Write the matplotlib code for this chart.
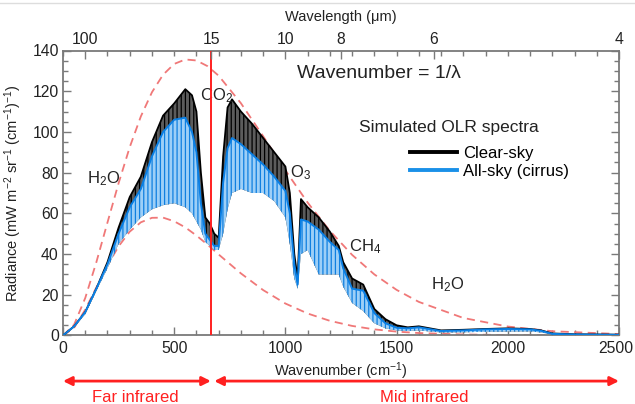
import matplotlib
matplotlib.use("Agg")
import matplotlib.pyplot as plt
from matplotlib.ticker import MultipleLocator
from matplotlib.lines import Line2D

plt.rcParams["font.family"] = ["Liberation Sans", "DejaVu Sans"]
plt.rcParams["mathtext.fontset"] = "custom"
plt.rcParams["mathtext.rm"] = "Liberation Sans"
plt.rcParams["mathtext.it"] = "Liberation Sans:italic"
plt.rcParams["hatch.linewidth"] = 0.9

# 讀圖所得數據（波數 cm-1）
wn = [0, 50, 100, 150, 200, 250, 300, 350, 400, 450, 500, 550, 580, 600, 620,
      640, 660, 680, 700, 720, 740, 760, 800, 850, 900, 950, 1000, 1020, 1040,
      1055, 1070, 1100, 1150, 1200, 1240, 1260, 1300, 1350, 1400, 1450, 1500,
      1550, 1600, 1700, 1800, 1900, 2000, 2100, 2150, 2200, 2300, 2400, 2500]
clear_top = [0, 4.5, 11.5, 23, 36, 53, 68, 78, 95, 108, 114, 121, 118, 110, 80,
             58, 55, 50, 48, 88, 112, 116, 110, 104, 97, 90, 83, 70, 40,
             28, 67, 63, 58, 51, 44, 36, 28, 25, 13, 8, 5,
             4, 4.5, 2.5, 2.8, 3.2, 3.5, 3.2, 2.5, 1.0, 0.6, 0.5, 0.4]
cirrus_top = [0, 4.5, 11.5, 23, 35, 50, 63, 72, 88, 100, 106, 107, 100, 90, 65,
              50, 47, 44, 44, 75, 92, 97, 94, 89, 84, 78, 71, 60, 35,
              25, 57, 56, 52, 46, 42, 33, 23, 22, 11, 6, 3.8,
              3.5, 4, 2.2, 2.5, 3, 3.2, 3, 2.3, 0.8, 0.5, 0.4, 0.3]
cirrus_bot = [0, 4, 10.5, 22, 33, 45, 52, 58, 62, 64, 65, 63, 60, 56, 52,
              46, 44, 42, 42, 50, 62, 70, 72, 70, 70, 66, 58, 45, 28,
              23, 40, 42, 30, 30, 30, 24, 16, 12, 6, 3.5, 2.5,
              2.2, 2.5, 1.5, 1.6, 1.8, 2.0, 2.0, 1.5, 0.5, 0.3, 0.3, 0.2]

# 黑體輻射曲線（虛線）
bb_wn = [0, 50, 100, 150, 200, 250, 300, 350, 400, 450, 500, 550, 600, 650,
         700, 800, 900, 1000, 1100, 1200, 1300, 1400, 1500, 1600, 1800, 2000,
         2200, 2500]
bb_warm = [0, 5.3, 18.4, 36.0, 55.5, 74.8, 92.5, 107.6, 119.5, 128.1, 133.4,
           135.6, 135.1, 132.3, 127.6, 114.1, 97.9, 81.1, 65.3, 51.4, 39.6,
           30.0, 22.4, 16.5, 8.6, 4.4, 2.1, 0.7]
bb_cold = [0, 3.8, 12.7, 23.6, 34.4, 43.8, 51.0, 55.6, 57.8, 57.9, 56.1, 53.1,
           49.1, 44.6, 39.8, 30.5, 22.3, 15.7, 10.8, 7.2, 4.7, 3.0, 1.9, 1.2,
           0.5, 0.2, 0.1, 0.02]

wn_ticks = [0, 500, 1000, 1500, 2000, 2500]
wl_ticks = [100, 15, 10, 8, 6, 4]
co2_center = 667

red = "#ff2020"
dash_red = "#f07878"
gray = "#7a7a7a"
ink = "#222222"

fig = plt.figure(figsize=(6.35, 4.04), dpi=100)
ax = fig.add_axes([0.0992, 0.1696, 0.8756, 0.7054])

ax.plot(bb_wn, bb_warm, ls=(0, (4.5, 3)), color=dash_red, lw=1.3, zorder=2)
ax.plot(bb_wn, bb_cold, ls=(0, (4.5, 3)), color=dash_red, lw=1.3, zorder=2)

ax.fill_between(wn, cirrus_bot, clear_top, facecolor="#5c5c5c",
                edgecolor="#000000", hatch="||||", lw=0, zorder=3)
ax.plot(wn, clear_top, color="black", lw=1.3, zorder=3)
ax.fill_between(wn, cirrus_bot, cirrus_top, facecolor="#9dcff7",
                edgecolor="#0f7fe0", hatch="||||", lw=0, zorder=4)
ax.plot(wn, cirrus_top, color="#0a7fe4", lw=1.4, zorder=4)

ax.axvline(co2_center, color=red, lw=1.4, zorder=5)

ax.set_xlim(0, 2500)
ax.set_ylim(0, 140)
# 最右邊的 2500 另外放，靠右對齊避免被裁切
ax.set_xticks(wn_ticks, labels=[str(t) for t in wn_ticks[:-1]] + [""])
ax.xaxis.set_minor_locator(MultipleLocator(100))
ax.yaxis.set_major_locator(MultipleLocator(20))
ax.yaxis.set_minor_locator(MultipleLocator(5))
ax.tick_params(which="both", direction="in", right=True, colors=gray,
               labelcolor=ink, labelsize=11.3)
ax.tick_params(which="major", length=6, width=1)
ax.tick_params(which="minor", length=3.5, width=1)
ax.tick_params(axis="x", pad=4)
ax.tick_params(axis="y", pad=3)
for s in ax.spines.values():
    s.set_color(gray)
    s.set_linewidth(1.3)
ax.annotate(str(wn_ticks[-1]), xy=(wn_ticks[-1], 0),
            xycoords=ax.get_xaxis_transform(), xytext=(10, -4),
            textcoords="offset points", ha="right", va="top",
            fontsize=11.3, color=ink, annotation_clip=False)

ax.set_xlabel("Wavenumber (cm$^{\\mathregular{-1}}$)", fontsize=10.5,
              color=ink, labelpad=3)
ax.set_ylabel("Radiance (mW m$^{\\mathregular{-2}}$ sr$^{\\mathregular{-1}}$ "
              "(cm$^{\\mathregular{-1}}$)$^{\\mathregular{-1}}$)",
              fontsize=10.5, color=ink, labelpad=6)

ax2 = ax.twiny()
ax2.set_xlim(0, 2500)
ax2.set_xticks([1e4 / w for w in wl_ticks])
ax2.set_xticklabels([str(w) for w in wl_ticks])
ax2.xaxis.set_minor_locator(MultipleLocator(100))
ax2.tick_params(which="both", direction="in", colors=gray,
                labelcolor=ink, labelsize=11.3, pad=2.5)
ax2.tick_params(which="major", length=6, width=1)
ax2.tick_params(which="minor", length=3.5, width=1)
for s in ax2.spines.values():
    s.set_visible(False)
ax2.set_xlabel("Wavelength (\u03bcm)", fontsize=10.5, color=ink,
               labelpad=8)

ax.text(1052, 128.5, "Wavenumber = 1/\u03bb", fontsize=14, ha="left",
        va="center", color=ink)
ax.text(1736, 102, "Simulated OLR spectra", fontsize=12.5, ha="center",
        va="center", color=ink)
handles = [Line2D([], [], color="black", lw=2.8),
           Line2D([], [], color="#1a90e8", lw=2.8)]
ax.legend(handles, ["Clear-sky", "All-sky (cirrus)"], frameon=False,
          fontsize=12, handlelength=2.8, handletextpad=0.4, labelspacing=0.2,
          loc="upper left", bbox_to_anchor=(0.624, 0.665), borderpad=0,
          borderaxespad=0)

mol_kw = dict(fontsize=12, ha="center", va="center", color=ink)
ax.text(184, 77, "H$_\\mathregular{2}$O", **mol_kw)
ax.text(692, 118, "CO$_\\mathregular{2}$", **mol_kw)
ax.text(1068, 80, "O$_\\mathregular{3}$", **mol_kw)
ax.text(1360, 43.5, "CH$_\\mathregular{4}$", **mol_kw)
ax.text(1727, 25, "H$_\\mathregular{2}$O", **mol_kw)

tr = ax.get_xaxis_transform()
arrow = dict(arrowstyle="<|-|>", color=red, lw=2, mutation_scale=13,
             shrinkA=0, shrinkB=0)
ax.annotate("", xy=(0, -0.16), xytext=(665, -0.16), xycoords=tr,
            textcoords=tr, arrowprops=arrow, annotation_clip=False)
ax.annotate("", xy=(680, -0.16), xytext=(2500, -0.16), xycoords=tr,
            textcoords=tr, arrowprops=arrow, annotation_clip=False)
ax.text(324, -0.218, "Far infrared", transform=tr, fontsize=12,
        color=red, ha="center", va="center")
ax.text(1623, -0.218, "Mid infrared", transform=tr, fontsize=12,
        color=red, ha="center", va="center")

fig.add_artist(Line2D([0, 1], [0.992, 0.992], color="#dddddd", lw=1,
                      transform=fig.transFigure))

fig.savefig("out.png", dpi=100)
